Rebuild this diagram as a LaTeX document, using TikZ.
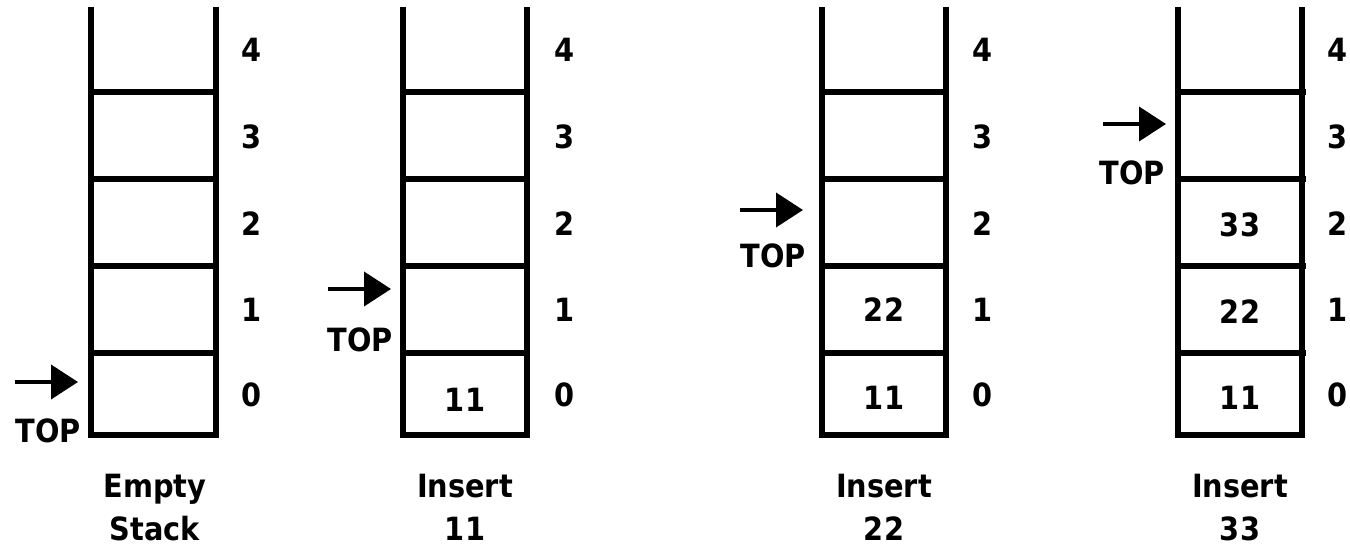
\documentclass[tikz,border=0pt]{standalone}
\usepackage{fontspec}
\setmainfont{DejaVu Sans}[FakeStretch=0.9]
\usetikzlibrary{arrows.meta}
\begin{document}
\begin{tikzpicture}[x=1pt,y=-1pt,
  wall/.style={line width=5.5pt, line cap=rect},
  rung/.style={line width=5.5pt},
  lbl/.style={font=\fontsize{32}{38}\selectfont\bfseries, inner sep=0pt},
  captxt/.style={lbl, anchor=base},
  ptr/.style={line width=4pt,-{Triangle[length=27pt,width=34pt]}}]
\useasboundingbox (0,0) rectangle (1350,545);
% stacks
\foreach \xl/\xr/\xe/\xi/\nm in {91/216/216/252/a, 403/527/527/565/b, 822/946/946/983/c, 1178/1302/1306/1338/d}{
  \draw[wall] (\xl,10) -- (\xl,435) -- (\xr,435) -- (\xr,10);
  \foreach \yy in {92,179,266,353}{
    \draw[rung] (\xl,\yy) -- (\xe,\yy);
  }
  \foreach \k/\yy in {0/395,1/310,2/224,3/137,4/50}{
    \node[lbl] (\nm i\k) at (\xi,\yy) {\k};
  }
}
% cell values
\node[lbl] (b0) at (465,400) {11};
\node[lbl] (c0) at (884,398) {11};
\node[lbl] (c1) at (884,310) {22};
\node[lbl] (d0) at (1240,398) {11};
\node[lbl] (d1) at (1240,312) {22};
\node[lbl] (d2) at (1240,225) {33};
% captions
\node[captxt] (acap1) at (155,497) {Empty};
\node[captxt] (acap2) at (155,540) {Stack};
\node[captxt] (bcap1) at (465,497) {Insert};
\node[captxt] (bcap2) at (465,540) {11};
\node[captxt] (ccap1) at (884,497) {Insert};
\node[captxt] (ccap2) at (884,540) {22};
\node[captxt] (dcap1) at (1240,497) {Insert};
\node[captxt] (dcap2) at (1240,540) {33};
% top pointers
\coordinate (as) at (15,382);   \coordinate (ae) at (78,382);
\coordinate (bs) at (328,289);  \coordinate (be) at (391,289);
\coordinate (cs) at (740,210);  \coordinate (ce) at (803,210);
\coordinate (ds) at (1103,124); \coordinate (de) at (1166,124);
\draw[ptr] (as) -- (ae);
\draw[ptr] (bs) -- (be);
\draw[ptr] (cs) -- (ce);
\draw[ptr] (ds) -- (de);
\node[lbl] (atop) at (48,431) {TOP};
\node[lbl] (btop) at (360,340) {TOP};
\node[lbl] (ctop) at (773,256) {TOP};
\node[lbl] (dtop) at (1132,173) {TOP};
\end{tikzpicture}
\end{document}
